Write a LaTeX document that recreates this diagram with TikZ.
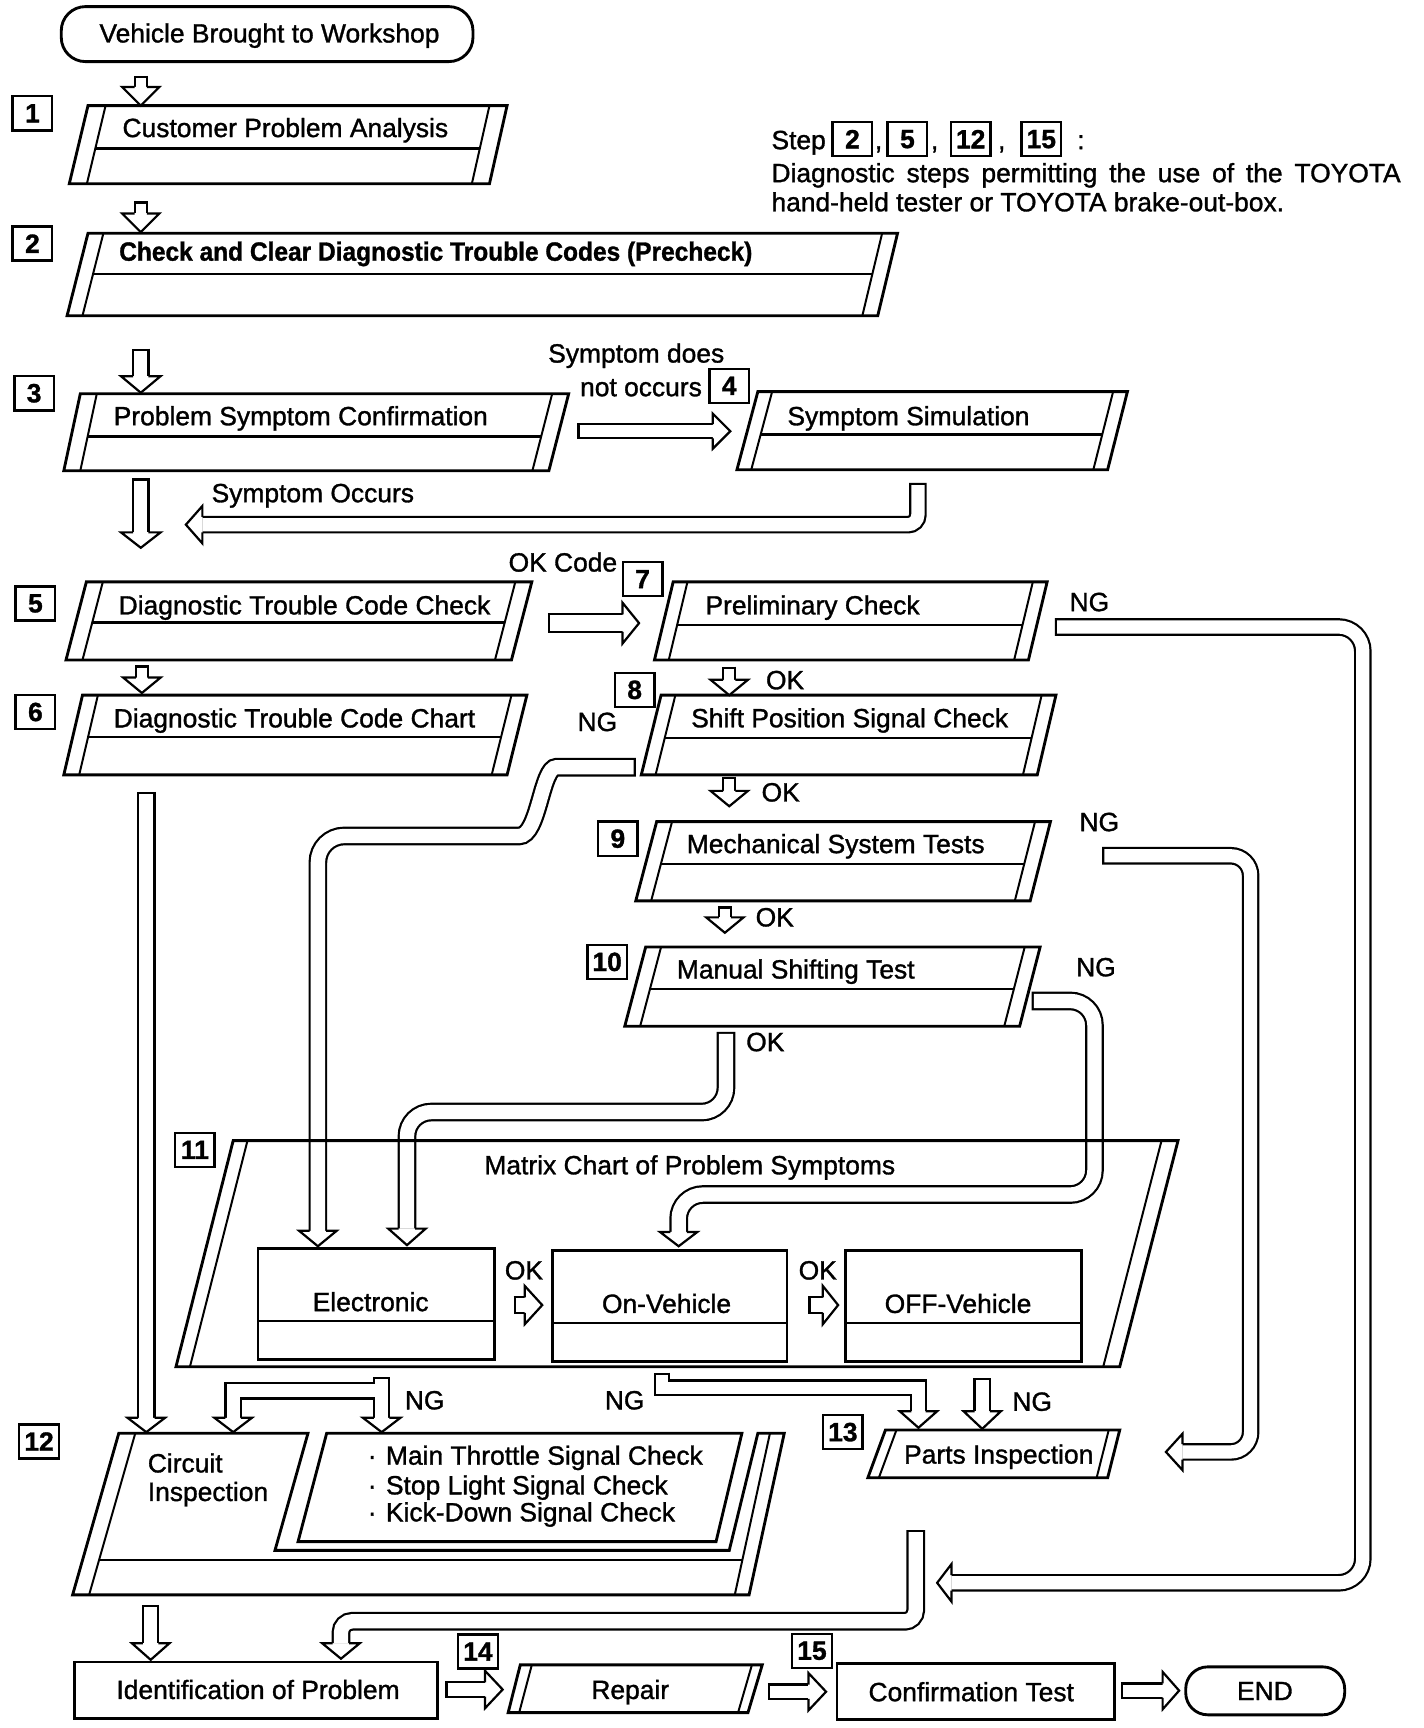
\documentclass[tikz,border=0pt]{standalone}
\usepackage{fontspec}
\usepackage{graphicx}
\setmainfont{Liberation Sans}[RawFeature={embolden=1.2}]
\newcommand\alw{1pt}
% parallelogram step box: TLx BLx TRx BRx top divider bottom offset
\newcommand\stepbox[8]{%
  \pgfmathsetmacro\sbt{(#6-#5)/(#7-#5)}%
  \draw[box] (#1,#5)--(#3,#5)--(#4,#7)--(#2,#7)--cycle;
  \draw[thinl] (#1+#8,#5)--(#2+#8,#7);
  \draw[thinl] (#3-#8,#5)--(#4-#8,#7);
  \draw[divl] ({#1+#8+(#2-#1)*\sbt},#6)--({#3-#8+(#4-#3)*\sbt},#6);
}
% hollow shaft: [opts]{width}{path}
\newcommand\fshaft[3][]{%
  \draw[line width=#2, line cap=butt, #1] #3;
  \draw[line width=#2-2*\alw, white, line cap=butt, shorten <=\alw, #1] #3;
}
% hollow head: x y rotation length shafthalf headhalf
\newcommand\ahead[6]{%
  \begin{scope}[shift={(#1,#2)},rotate=#3]
    \fill[white] (0,-#6)--(#4,0)--(0,#6)--cycle;
    \draw[line width=\alw,line join=miter] (0,-#5)--(0,-#6)--(#4,0)--(0,#6)--(0,#5);
  \end{scope}}
\begin{document}
\begin{tikzpicture}[x=0.5pt,y=-0.5pt,
  box/.style={draw,line width=1.3pt},
  thinl/.style={draw,line width=0.9pt},
  divl/.style={draw,line width=1.1pt},
  txt/.style={inner sep=0pt,anchor=base west,font=\fontsize{12}{14}\selectfont},
  ctxt/.style={inner sep=0pt,anchor=base,font=\fontsize{12}{14}\selectfont},
  numbox/.style={draw,line width=1.1pt,minimum width=18pt,minimum height=15.5pt,inner sep=0pt,font=\bfseries\fontsize{12}{14}\selectfont},
]
\useasboundingbox[fill=white] (0,0) rectangle (1294.5,1571);

% ---------- top start ----------
\draw[box,rounded corners=11pt] (55.7,6) rectangle (430,56);
\node[ctxt] (start) at (245,38.6) {Vehicle Brought to Workshop};

% ---------- step boxes ----------
\stepbox{80}{63}{461}{445}{96}{135}{167}{16}
\node[txt] (b1) at (111,124.6) {Customer Problem Analysis};
\stepbox{80}{61}{816}{798}{212}{249}{287}{14}
\node[txt] (b2) at (108,237) {\resizebox{287.8pt}{\height}{\bfseries Check and Clear Diagnostic Trouble Codes (Precheck)}};
\stepbox{73}{58}{517}{499}{358}{397}{428}{15}
\node[txt] (b3) at (103,386.6) {Problem Symptom Confirmation};
\stepbox{689}{670}{1025}{1007}{356}{395}{427}{13}
\node[txt] (b4) at (715.5,386.6) {Symptom Simulation};
\stepbox{78.5}{60}{483.5}{465}{529}{566}{600}{15}
\node[txt] (b5) at (107.5,558.6) {Diagnostic Trouble Code Check};
\stepbox{75}{58}{479}{461}{632}{670}{704.5}{14}
\node[txt] (b6) at (103,661.3) {Diagnostic Trouble Code Chart};
\stepbox{612}{595}{952}{935}{529}{568}{600}{13}
\node[txt] (b7) at (641,558.6) {Preliminary Check};
\stepbox{601}{583}{960}{943}{632}{671}{704.5}{13}
\node[txt] (b8) at (628,661.2) {Shift Position Signal Check};
\stepbox{597}{578}{955}{936.6}{747}{785.5}{819}{14}
\node[txt] (b9) at (624,775.6) {Mechanical System Tests};
\stepbox{587}{568}{945.6}{927}{861}{899}{933}{14}
\node[txt] (b10) at (615,889.6) {Manual Shifting Test};

% ---------- number boxes ----------
\node[numbox] (n1) at (29.5,103) {1};
\node[numbox] (n2) at (29.5,221.5) {2};
\node[numbox] (n3) at (31,357.5) {3};
\node[numbox] (n4) at (663,350.7) {4};
\node[numbox] (n5) at (32.2,548.6) {5};
\node[numbox] (n6) at (32.2,647.3) {6};
\node[numbox] (n7) at (584.2,526.5) {7};
\node[numbox] (n8) at (577,627.2) {8};
\node[numbox] (n9) at (561.7,762.5) {9};
\node[numbox] (n10) at (552,874.5) {10};
\node[numbox] (n11) at (177.2,1045.4) {11};
\node[numbox] (n12) at (35.5,1310.5) {12};
\node[numbox] (n13) at (766.3,1302) {13};
\node[numbox] (n14) at (434.5,1501.5) {14};
\node[numbox] (n15) at (738.2,1500.8) {15};

% ---------- legend ----------
\node[txt] (lstep) at (701,135.6) {Step};
\node[numbox] (l2) at (775,126.5) {2};
\node[txt] at (795,135.6) {,};
\node[numbox] (l5) at (825,126.5) {5};
\node[txt] at (846,135.6) {,};
\node[numbox] (l12) at (882.5,126.5) {12};
\node[txt] at (907,135.6) {,};
\node[numbox] (l15) at (946.7,126.5) {15};
\node[txt] at (979,135.6) {:};
\node[txt] (leg1) at (701,165.6) {\makebox[286pt][s]{Diagnostic steps permitting the use of the TOYOTA}};
\node[txt] (leg2) at (701,192.1) {hand-held tester or TOYOTA brake-out-box.};

% ---------- straight arrows down (left column) ----------
\fshaft{6.5pt}{(128,69)--(128,79)}  \ahead{128}{79}{-90}{17}{5.5}{17}
\fshaft{6.5pt}{(128,183)--(128,194)} \ahead{128}{194}{-90}{17}{5.5}{17}
\fshaft{8pt}{(128,317)--(128,342)}  \ahead{128}{342}{-90}{15}{7}{18}
\fshaft{8pt}{(128,435)--(128,484)}  \ahead{128}{484}{-90}{14}{7}{18}
\fshaft{6.5pt}{(129,605)--(129,616)} \ahead{129}{616}{-90}{14}{5.5}{17}
\fshaft{8.5pt}{(133,720)--(133,1289)} \ahead{133}{1289}{-90}{13}{7.5}{17}
\fshaft{8pt}{(137,1459)--(137,1494)} \ahead{137}{1494}{-90}{15}{7}{17}

% OK arrows (right column)
\fshaft{6.5pt}{(663,606)--(663,618)} \ahead{663}{618}{-90}{14}{5.5}{17}
\fshaft{6.5pt}{(663,706)--(663,719)} \ahead{663}{719}{-90}{14}{5.5}{17}
\fshaft{6.5pt}{(659,824)--(659,834)} \ahead{659}{834}{-90}{14}{5.5}{17}
\node[txt] at (696,626.6) {OK};
\node[txt] at (692,728.6) {OK};
\node[txt] at (686.6,842.2) {OK};

% right arrows
\fshaft{7.5pt}{(525,392)--(648,392)} \ahead{648}{392}{0}{16}{6.5}{16}
\node[txt] at (498,329.6) {Symptom does};
\node[txt] at (527,360.2) {not occurs};
\fshaft{9pt}{(498,566.5)--(566,566.5)} \ahead{566}{566.5}{0}{15}{8}{18.5}
\node[txt] at (462,519.6) {OK Code};

% Symptom occurs return
\fshaft[rounded corners=4.5pt]{8pt}{(834.5,439)--(834.5,477)--(184,477)} \ahead{184}{477}{180}{15}{7}{17}
\node[txt] at (192,456.6) {Symptom Occurs};

% NG from Preliminary Check
\fshaft[rounded corners=11pt]{8pt}{(959,570)--(1239,570)--(1239,1439)--(865,1439)} \ahead{865}{1439}{180}{13}{7}{17}
\node[txt] at (972,555.6) {NG};
% NG from Mechanical System Tests
\fshaft[rounded corners=9pt]{8pt}{(1002,778)--(1137,778)--(1137,1320)--(1075,1320)} \ahead{1075}{1320}{180}{15}{7}{16.5}
\node[txt] at (981,755.6) {NG};
% NG from Manual Shifting Test
\fshaft[rounded corners=11pt]{8.5pt}{(938,910)--(995,910)--(995,1086)--(617,1086)--(617,1120)} \ahead{617}{1120}{-90}{13}{7.5}{17}
\node[txt] at (978,887.6) {NG};
% OK from Manual Shifting Test
\fshaft[rounded corners=11pt]{8.5pt}{(660,938)--(660,1011)--(370,1011)--(370,1117)} \ahead{370}{1117}{-90}{15}{7.5}{17}
\node[txt] at (678,955.6) {OK};
% NG from Shift Position Signal Check
\fshaft[rounded corners=12pt]{8.5pt}{(578,697.5)--(530,697.5) .. controls (492,697.5) and (490,760) .. (448,760) -- (289,760) -- (289,1119)} \ahead{289}{1119}{-90}{14}{7.5}{17}
\node[txt] at (524.7,664.6) {NG};

% ---------- matrix chart ----------
\draw[box] (212,1037)--(1071,1037)--(1018,1242.5)--(160,1242.5)--cycle;
\draw[thinl] (225,1037)--(172.7,1242.5);
\draw[thinl] (1056,1037)--(1003,1242.5);
\node[txt] (mx) at (440,1067.6) {Matrix Chart of Problem Symptoms};
\draw[box] (234.6,1135) rectangle (449.6,1235.6);
\draw[divl] (234.6,1201)--(449.6,1201);
\node[ctxt] (el) at (337,1192) {Electronic};
\draw[box] (502,1137) rectangle (715.5,1238);
\draw[divl] (502,1203)--(715.5,1203);
\node[ctxt] (onv) at (606,1193.6) {On-Vehicle};
\draw[box] (769,1137) rectangle (983.6,1238);
\draw[divl] (769,1203)--(983.6,1203);
\node[ctxt] (offv) at (871,1193.6) {OFF-Vehicle};
\fshaft{8pt}{(467,1186.5)--(477,1186.5)} \ahead{477}{1186.5}{0}{16}{7}{17.5}
\fshaft{8pt}{(735,1186.5)--(748,1186.5)} \ahead{748}{1186.5}{0}{14}{7}{17.5}
\node[txt] at (458.6,1163.2) {OK};
\node[txt] at (725.7,1163.2) {OK};

% ---------- NG arrows below matrix ----------
\draw[line width=8pt,line cap=butt] (347,1252)--(347,1289);
\draw[line width=8pt,line cap=butt,line join=miter] (347,1264.5)--(212,1264.5)--(212,1289);
\draw[white,line width=6pt,line cap=butt,shorten <=1pt] (347,1252)--(347,1289);
\draw[white,line width=6pt,line cap=butt,line join=miter] (347,1264.5)--(212,1264.5)--(212,1289);
\ahead{347}{1289}{-90}{13}{7}{17}
\ahead{212}{1289}{-90}{13}{7}{17}
\node[txt] at (367.7,1281.3) {NG};
\fshaft[line join=miter]{7.5pt}{(602,1248)--(602,1261.5)--(835,1261.5)--(835,1283)} \ahead{835}{1283}{-90}{15}{6.5}{17}
\node[txt] at (549.5,1281.3) {NG};
\fshaft{8pt}{(893,1253)--(893,1283)} \ahead{893}{1283}{-90}{16}{7}{17}
\node[txt] at (920,1282.6) {NG};

% ---------- step 12 ----------
\draw[box] (108,1303)--(66,1450)--(681,1450)--(713,1303)--(689,1303)--(663,1409.5)--(250,1409.5)--(280,1303)--cycle;
\draw[thinl] (123,1303)--(81,1450);
\draw[thinl] (700,1303)--(668,1450);
\draw[divl] (90,1418)--(675,1418);
\draw[box] (297,1303)--(674.5,1303)--(651,1401.5)--(271,1401.5)--cycle;
\node[txt] (ci1) at (134,1338.6) {Circuit};
\node[txt] (ci2) at (134,1364.6) {Inspection};
\node[txt] at (334,1331.6) {\textperiodcentered};
\node[txt] (s1) at (350.5,1331.6) {Main Throttle Signal Check};
\node[txt] at (334,1358.6) {\textperiodcentered};
\node[txt] (s2) at (350.5,1358.6) {Stop Light Signal Check};
\node[txt] at (334,1383.1) {\textperiodcentered};
\node[txt] (s3) at (350.5,1383.1) {Kick-Down Signal Check};

% ---------- step 13 ----------
\draw[box] (805,1300)--(1018,1300)--(1007,1343.5)--(789,1343.5)--cycle;
\draw[thinl] (815,1300)--(799,1343.5);
\draw[thinl] (1008,1300)--(997,1343.5);
\node[ctxt] (pi) at (908,1330.6) {Parts Inspection};

% Parts inspection -> identification
\fshaft[rounded corners=5pt]{8.5pt}{(832.5,1391)--(832.5,1474)--(310,1474)--(310,1494)} \ahead{310}{1494}{-90}{14}{7.5}{17}

% ---------- bottom row ----------
\draw[box] (68,1511) rectangle (397.6,1562);
\node[ctxt] (idp) at (234.6,1544.6) {Identification of Problem};
\draw[box] (473,1513.6)--(693,1513.6)--(680,1557)--(462,1557)--cycle;
\draw[thinl] (483.5,1513.6)--(472,1557);
\draw[thinl] (683.6,1513.6)--(671,1557);
\node[ctxt] (rep) at (573,1544.6) {Repair};
\draw[box] (761,1512) rectangle (1013,1563);
\node[ctxt] (conf) at (883,1546.6) {Confirmation Test};
\draw[box,rounded corners=10pt] (1078,1515.4) rectangle (1222.5,1559);
\node[ctxt] (endn) at (1150,1545.6) {END};
\fshaft{7.5pt}{(405,1536)--(441,1536)} \ahead{441}{1536}{0}{16}{6.5}{17}
\fshaft{7.5pt}{(698,1538)--(735,1538)} \ahead{735}{1538}{0}{16}{6.5}{17}
\fshaft{7.5pt}{(1019,1537)--(1057,1537)} \ahead{1057}{1537}{0}{15}{6.5}{17}
\end{tikzpicture}
\end{document}
